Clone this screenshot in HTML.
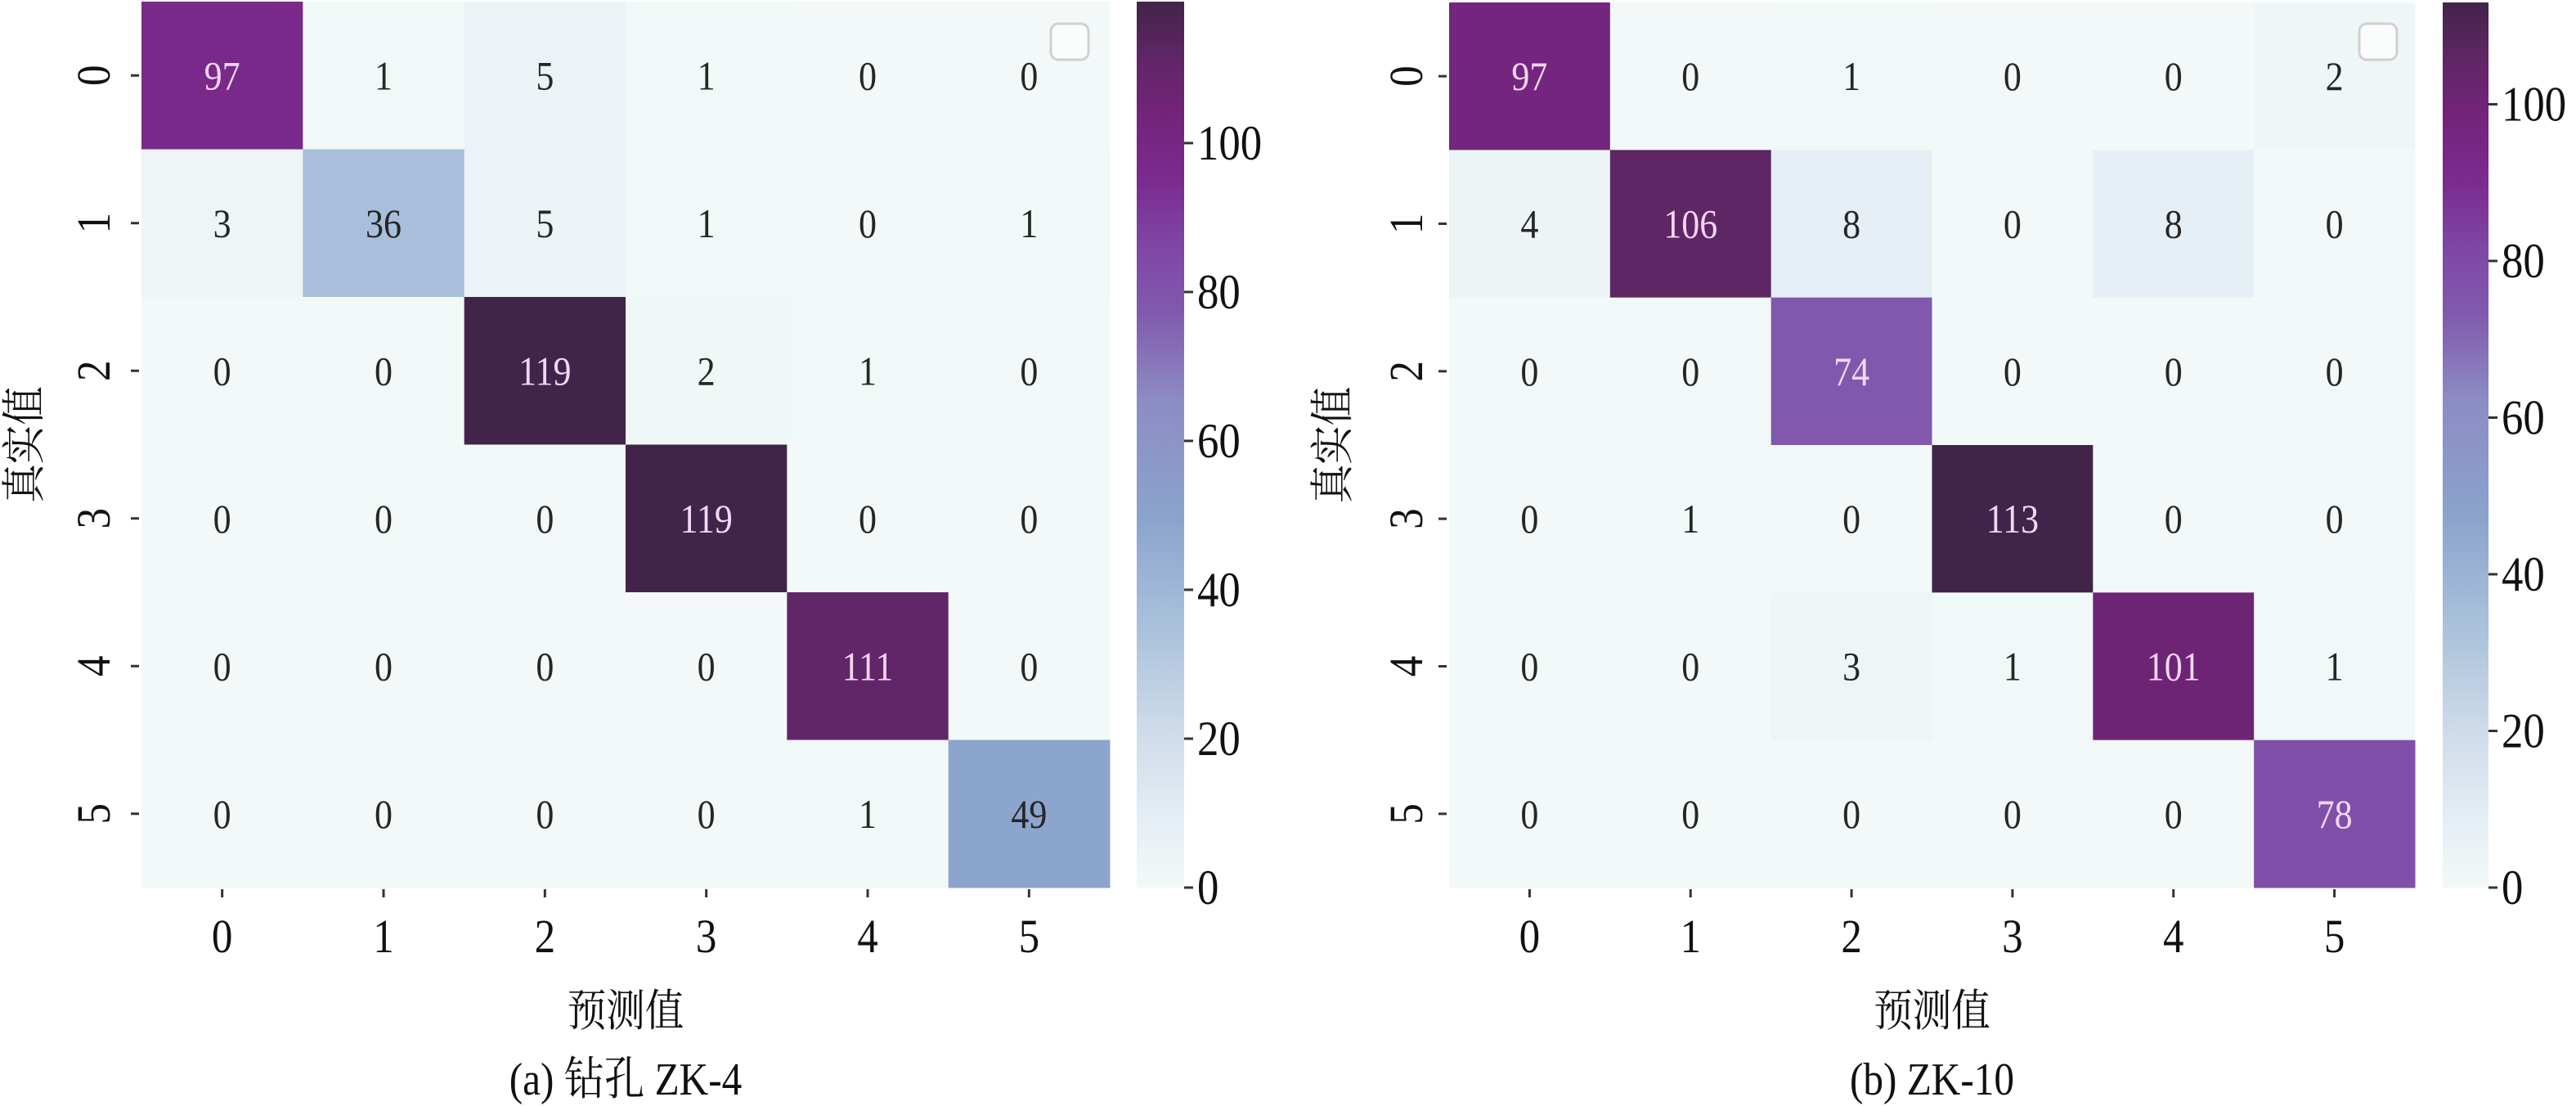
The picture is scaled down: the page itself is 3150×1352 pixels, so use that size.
<!DOCTYPE html>
<html><head><meta charset="utf-8">
<style>
html,body{margin:0;padding:0;background:#fff;}
svg{display:block;}
text{font-family:"Liberation Serif","Noto Serif CJK SC","Noto Sans CJK SC",serif;}
</style></head>
<body>
<svg id="s" width="3150" height="1352" xmlns="http://www.w3.org/2000/svg">
<defs>
<linearGradient id="cb" x1="0" y1="1" x2="0" y2="0">
<stop offset="0" stop-color="#f2f9f8"/>
<stop offset="0.07" stop-color="#e6eff5"/>
<stop offset="0.17" stop-color="#d0dcea"/>
<stop offset="0.30" stop-color="#a8c0da"/>
<stop offset="0.42" stop-color="#8aa3cc"/>
<stop offset="0.55" stop-color="#8c8cc4"/>
<stop offset="0.65" stop-color="#8159ad"/>
<stop offset="0.72" stop-color="#7e48a6"/>
<stop offset="0.80" stop-color="#7b2a8e"/>
<stop offset="0.88" stop-color="#722378"/>
<stop offset="0.93" stop-color="#622668"/>
<stop offset="1" stop-color="#42244a"/>
</linearGradient>
</defs>
</svg>
<script>
const stops=[[0,"#f2f9f8"],[0.07,"#e6eff5"],[0.17,"#d0dcea"],[0.30,"#a8c0da"],[0.42,"#8aa3cc"],[0.55,"#8c8cc4"],[0.65,"#8159ad"],[0.72,"#7e48a6"],[0.80,"#7b2a8e"],[0.88,"#722378"],[0.93,"#622668"],[1,"#42244a"]];
function hx(h){return [1,3,5].map(i=>parseInt(h.substr(i,2),16));}
function col(t){t=Math.max(0,Math.min(1,t));for(let i=1;i<stops.length;i++){if(t<=stops[i][0]){const a=stops[i-1],b=stops[i];const f=(t-a[0])/(b[0]-a[0]);const ca=hx(a[1]),cbb=hx(b[1]);return "rgb("+ca.map((v,k)=>Math.round(v+(cbb[k]-v)*f)).join(",")+")";}}return stops[stops.length-1][1];}
const s=document.getElementById('s');let out='';
function tx(x,y,size,str,anchor,fill,rot){
 return `<text transform="translate(${x},${y})${rot?' rotate(-90)':''} scale(0.88,1)" font-size="${size}" text-anchor="${anchor||'start'}" fill="${fill||'#111'}">${str}</text>`;
}
function chart(o){
 const {L,W,T,B,max,data,cbx,cbw,ylab,ytick,cap}=o;
 const cw=W/6,rh=(B-T)/6;
 for(let r=0;r<6;r++)for(let c=0;c<6;c++){
  const v=data[r][c],t=v/max;
  out+=`<rect x="${L+c*cw}" y="${T+r*rh}" width="${cw+0.5}" height="${rh+0.5}" fill="${col(t)}"/>`;
  out+=tx(L+c*cw+cw/2,T+r*rh+rh/2+17,50,v,'middle',t>0.6?'#f3d6f0':'#262626');
 }
 for(let i=0;i<6;i++){
  const yc=T+i*rh+rh/2, xc=L+i*cw+cw/2;
  out+=`<line x1="${L-13}" x2="${L-3}" y1="${yc}" y2="${yc}" stroke="#333" stroke-width="3"/>`;
  out+=tx(ytick+19,yc,58,i,'middle','#111',true);
  out+=`<line x1="${xc}" x2="${xc}" y1="${B+2}" y2="${B+12}" stroke="#333" stroke-width="3"/>`;
  out+=tx(xc,1164,58,i,'middle');
 }
 out+=tx(ylab+18,(T+B)/2,54,'真实值','middle','#111',true);
 out+=tx(L+W/2,1254,54,'预测值','middle');
 out+=tx(L+W/2,1338,56,cap,'middle');
 out+=`<rect x="${o.lgx}" y="29" width="46" height="44" rx="9" fill="#fbfdfd" stroke="#d0d0d0" stroke-width="3"/>`;
 out+=`<rect x="${cbx}" y="${T}" width="${cbw}" height="${B-T}" fill="url(#cb)"/>`;
 for(let v=0;v<=100;v+=20){
  const y=B-v*(B-T)/max;
  out+=`<line x1="${cbx+cbw}" x2="${cbx+cbw+11}" y1="${y}" y2="${y}" stroke="#333" stroke-width="3"/>`;
  out+=tx(cbx+cbw+16,y+20,60,v,'start');
 }
}
chart({L:173,W:1184,T:2,B:1085,max:119,cbx:1390,cbw:58,ylab:30,ytick:115,lgx:1285,cap:"(a) 钻孔 ZK-4",
 data:[[97,1,5,1,0,0],[3,36,5,1,0,1],[0,0,119,2,1,0],[0,0,0,119,0,0],[0,0,0,0,111,0],[0,0,0,0,1,49]]});
chart({L:1772,W:1181,T:3,B:1085,max:113,cbx:2987,cbw:56,ylab:1630,ytick:1720,lgx:2885,cap:"(b)  ZK-10",
 data:[[97,0,1,0,0,2],[4,106,8,0,8,0],[0,0,74,0,0,0],[0,1,0,113,0,0],[0,0,3,1,101,1],[0,0,0,0,0,78]]});
s.insertAdjacentHTML('beforeend',out);
</script>
</body></html>
